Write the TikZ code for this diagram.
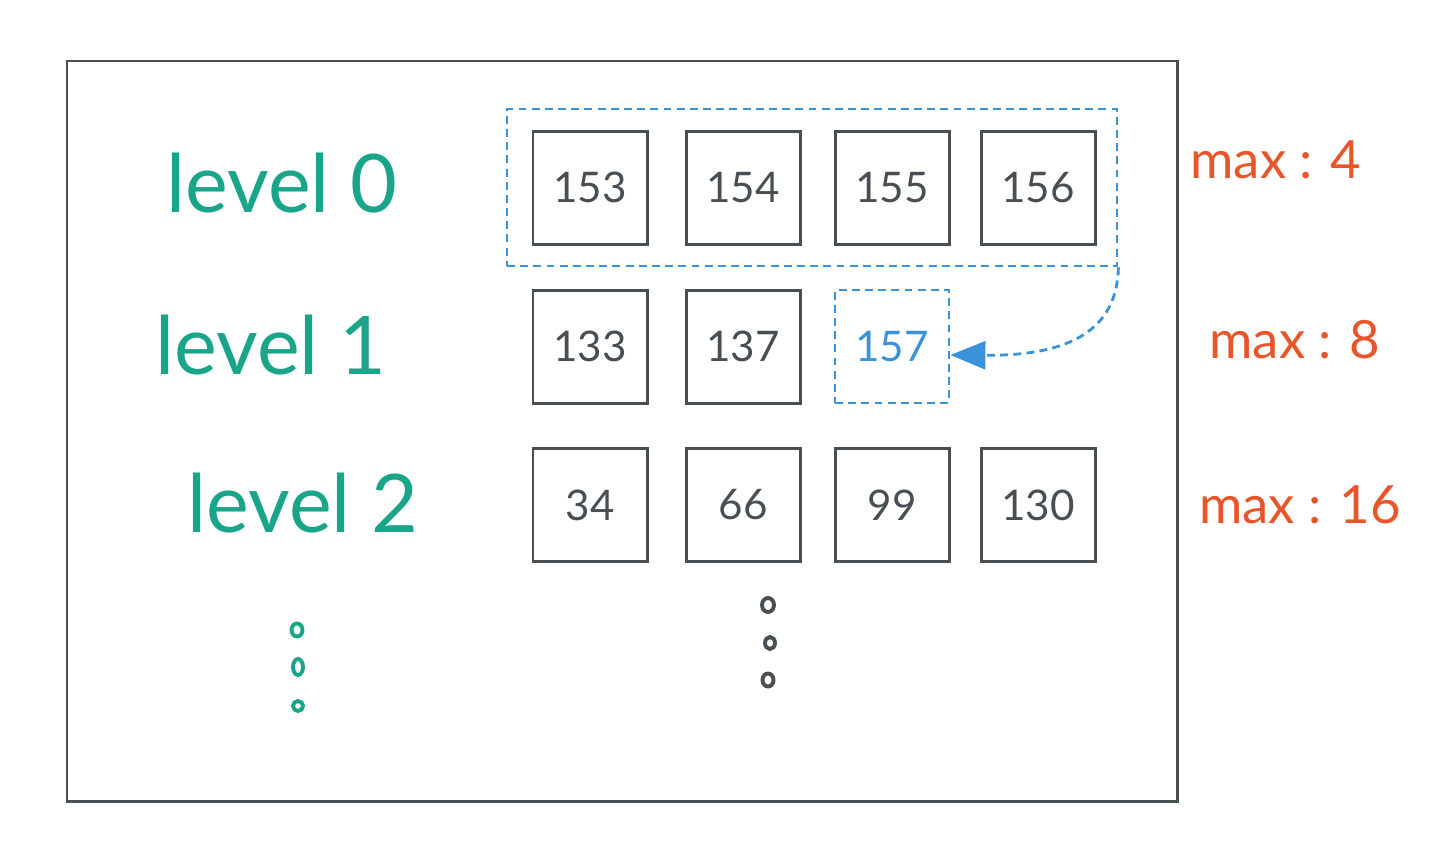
\documentclass[tikz,border=0pt]{standalone}
\usepackage{fontspec}
\setmainfont{Lato}
\usetikzlibrary{arrows.meta}
\definecolor{edge}{HTML}{474F54}
\definecolor{lvl}{HTML}{1AA58A}
\definecolor{mx}{HTML}{E8552A}
\definecolor{sel}{HTML}{3A93D8}
\begin{document}
\begin{tikzpicture}[line width=1.7pt,
  cell/.style={draw=edge,minimum width=2.28cm,minimum height=2.26cm,inner sep=0pt,text=edge,font=\fontsize{24}{28}\selectfont},
  dash box/.style={draw=sel,line width=1.6pt,dash pattern=on 4.5pt off 3pt},
  lvltext/.style={text=lvl,font=\fontsize{46}{50}\selectfont},
  maxtext/.style={text=mx,font=\fontsize{30}{34}\selectfont}]
\useasboundingbox (0,0) rectangle (29.120,-17.080);
\draw[edge] (1.340,-1.220) rectangle (23.540,-16.020);
% row 0
\node[dash box,minimum width=12.200cm,minimum height=3.140cm] (grp) at (16.240,-3.750) {};
\node[cell] (b153) at (11.800,-3.750) {153};
\node[cell] (b154) at (14.860,-3.750) {154};
\node[cell] (b155) at (17.840,-3.750) {155};
\node[cell] (b156) at (20.760,-3.750) {156};
% row 1
\node[cell] (b133) at (11.800,-6.930) {133};
\node[cell] (b137) at (14.860,-6.930) {137};
\node[cell,dash box,text=sel] (b157) at (17.840,-6.930) {157};
% row 2
\node[cell] (b34) at (11.800,-10.100) {34};
\node[cell] (b66) at (14.860,-10.100) {66};
\node[cell] (b99) at (17.840,-10.100) {99};
\node[cell] (b130) at (20.760,-10.100) {130};
\draw[sel,line width=1.6pt,dash pattern=on 4.5pt off 3pt,-{Triangle[length=7mm,width=5.6mm]}]
  (grp.south east) .. controls (22.340,-6.600) and (21.400,-7.120) .. ([yshift=-0.17cm]b157.east);
% levels
\node[lvltext] (lv0) at (5.640,-3.660) {level 0};
\node[lvltext] (lv1) at (5.420,-6.900) {level 1};
\node[lvltext] (lv2) at (6.060,-10.060) {level 2};
\node[maxtext] (mx0) at (25.520,-3.200) {max : 4};
\node[maxtext] (mx1) at (25.900,-6.800) {max : 8};
\node[maxtext] (mx2) at (26.000,-10.100) {max : 16};
% dots
\draw[lvl,line width=2.2pt] (5.940,-12.600) ellipse (0.110 and 0.130);
\draw[lvl,line width=2.2pt] (5.960,-13.340) ellipse (0.100 and 0.160);
\draw[lvl,line width=2.2pt] (5.960,-14.120) ellipse (0.100 and 0.100);
\draw[edge,line width=2.2pt] (15.360,-12.100) ellipse (0.120 and 0.140);
\draw[edge,line width=2.2pt] (15.400,-12.860) ellipse (0.100 and 0.120);
\draw[edge,line width=2.2pt] (15.360,-13.600) ellipse (0.110 and 0.130);
\end{tikzpicture}
\end{document}
